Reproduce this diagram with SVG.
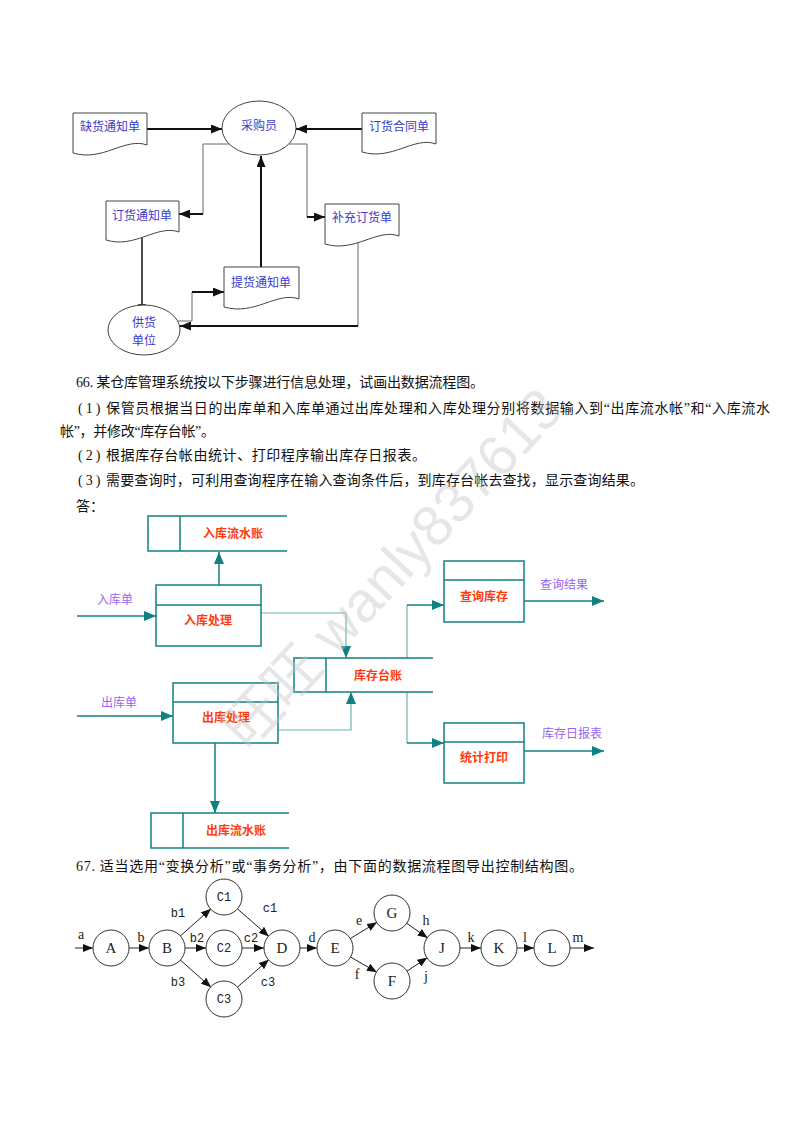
<svg xmlns="http://www.w3.org/2000/svg" width="800" height="1132" viewBox="0 0 800 1132">
<style>
.bg{fill:#fff}
.wm{font-family:"Liberation Sans","Noto Sans CJK SC",sans-serif;font-size:57px;fill:#c4c4c4;fill-opacity:0.42}
.para{font-family:"Liberation Serif","Noto Sans CJK SC",serif;font-size:14px;fill:#111}
.num{letter-spacing:3px}
.doc{fill:#fff;stroke:#444;stroke-width:1}
.ell{fill:#fff;stroke:#444;stroke-width:1}
.blue{font-family:"Noto Sans CJK SC",sans-serif;font-size:12px;fill:#3a3acc;text-anchor:middle}
.thick{fill:none;stroke:#111;stroke-width:2}
.thin{fill:none;stroke:#666;stroke-width:1}
.tbox{fill:#fff;stroke:#108080;stroke-width:1.5}
.tline{fill:none;stroke:#108080;stroke-width:1.5}
.tthin{fill:none;stroke:#6fb3b3;stroke-width:1.2}
.red{font-family:"Noto Sans CJK SC",sans-serif;font-size:12px;font-weight:bold;fill:#ff3a10;text-anchor:middle}
.pur{font-family:"Noto Sans CJK SC",sans-serif;font-size:12px;fill:#9966ee;text-anchor:middle}
.node{fill:#fff;stroke:#333;stroke-width:1}
.nl{font-family:"Liberation Serif",serif;font-size:15px;fill:#222;text-anchor:middle}
.el{font-family:"Liberation Serif",serif;font-size:14px;fill:#222;text-anchor:middle}
.em{font-family:"Liberation Mono",monospace;font-size:12px;fill:#222;text-anchor:middle}
.g{fill:none;stroke:#222;stroke-width:1}
</style>
<defs>
<marker id="ab" markerUnits="userSpaceOnUse" markerWidth="11" markerHeight="9" refX="11" refY="4.5" orient="auto"><path d="M0,0 L11,4.5 L0,9 z" fill="#111"/></marker>
<marker id="at" markerUnits="userSpaceOnUse" markerWidth="12" markerHeight="10" refX="12" refY="5" orient="auto"><path d="M0,0 L12,5 L0,10 z" fill="#108080"/></marker>
<marker id="ag" markerUnits="userSpaceOnUse" markerWidth="10" markerHeight="8" refX="10" refY="4" orient="auto"><path d="M0,0 L10,4 L0,8 z" fill="#111"/></marker>
</defs>
<rect class="bg" x="0" y="0" width="800" height="1132"/>

<!-- ===== Top diagram ===== -->
<g id="top-connectors">
<line class="thick" x1="147" y1="129" x2="222" y2="129" marker-end="url(#ab)"/>
<line class="thick" x1="362" y1="129" x2="296" y2="129" marker-end="url(#ab)"/>
<polyline class="thin" points="229,144 203,144 203,214"/>
<line class="thick" x1="203" y1="214" x2="179" y2="214" marker-end="url(#ab)"/>
<polyline class="thin" points="289,144 307,144 307,217"/>
<line class="thick" x1="307" y1="217" x2="325" y2="217" marker-end="url(#ab)"/>
<line class="thick" x1="261" y1="267" x2="261" y2="156" marker-end="url(#ab)"/>
<line x1="142" y1="238" x2="142" y2="305" stroke="#111" stroke-width="1.5"/>
<line x1="138" y1="305" x2="146" y2="305" stroke="#111" stroke-width="1.5"/>
<polyline class="thin" points="178,321 192,321 192,292"/>
<line class="thick" x1="192" y1="292" x2="224" y2="292" marker-end="url(#ab)"/>
<polyline class="thin" points="358,243 358,326"/>
<line class="thick" x1="358" y1="326" x2="180" y2="326" marker-end="url(#ab)"/>
</g>
<g id="n-quehuo"><path class="doc" d="M73,113 H147 V145 C125,137 103,162 73,153 Z"/><text class="blue" x="110" y="131">缺货通知单</text></g>
<g id="n-caigou"><ellipse class="ell" cx="259" cy="128" rx="37" ry="27"/><text class="blue" x="259" y="130">采购员</text></g>
<g id="n-hetong"><path class="doc" d="M362,113 H436 V144 C414,136 392,161 362,152 Z"/><text class="blue" x="399" y="131">订货合同单</text></g>
<g id="n-dinghuo"><path class="doc" d="M106,201 H179 V232 C157,224 135,249 106,240 Z"/><text class="blue" x="142" y="220">订货通知单</text></g>
<g id="n-buchong"><path class="doc" d="M325,204 H399 V236 C377,228 355,253 325,244 Z"/><text class="blue" x="362" y="222">补充订货单</text></g>
<g id="n-tihuo"><path class="doc" d="M224,267 H299 V299 C277,291 255,316 224,307 Z"/><text class="blue" x="261" y="287">提货通知单</text></g>
<g id="n-gonghuo"><ellipse class="ell" cx="144" cy="330" rx="36" ry="25"/><text class="blue" x="144" y="327">供货</text><text class="blue" x="144" y="345">单位</text></g>

<!-- ===== Paragraph ===== -->
<g id="para66">
<text class="para" x="76" y="387" textLength="408">66. 某仓库管理系统按以下步骤进行信息处理，试画出数据流程图。</text>
<text class="para" y="413"><tspan class="num" x="78">(1)</tspan><tspan x="106" textLength="664">保管员根据当日的出库单和入库单通过出库处理和入库处理分别将数据输入到“出库流水帐”和“入库流水</tspan></text>
<text class="para" x="60" y="436" textLength="155">帐”，并修改“库存台帐”。</text>
<text class="para" y="460"><tspan class="num" x="78">(2)</tspan><tspan x="106" textLength="320">根据库存台帐由统计、打印程序输出库存日报表。</tspan></text>
<text class="para" y="485"><tspan class="num" x="78">(3)</tspan><tspan x="106" textLength="538">需要查询时，可利用查询程序在输入查询条件后，到库存台帐去查找，显示查询结果。</tspan></text>
<text class="para" x="76" y="511">答：</text>
</g>

<!-- ===== DFD ===== -->
<g id="dfd-connectors">
<line class="tline" x1="219" y1="585" x2="219" y2="552" marker-end="url(#at)"/>
<line class="tline" x1="77" y1="616" x2="156" y2="616" marker-end="url(#at)"/>
<polyline class="tthin" points="261,613 346,613 346,658" marker-end="url(#at)"/>
<line class="tline" x1="77" y1="716" x2="173" y2="716" marker-end="url(#at)"/>
<polyline class="tthin" points="278,730 351,730 351,692" marker-end="url(#at)"/>
<line class="tline" x1="215" y1="743" x2="215" y2="813" marker-end="url(#at)"/>
<polyline class="tthin" points="407,658 407,605"/>
<line class="tline" x1="407" y1="605" x2="444" y2="605" marker-end="url(#at)"/>
<polyline class="tthin" points="407,692 407,743"/>
<line class="tline" x1="407" y1="743" x2="444" y2="743" marker-end="url(#at)"/>
<line class="tline" x1="524" y1="601" x2="604" y2="601" marker-end="url(#at)"/>
<line class="tline" x1="524" y1="751" x2="604" y2="751" marker-end="url(#at)"/>
</g>
<g id="s-rkls"><path class="tline" d="M287,516 H148 V551 H287 M180,516 V551"/><text class="red" x="233" y="538">入库流水账</text></g>
<g id="p-rkcl"><rect class="tbox" x="156" y="585" width="105" height="61"/><line class="tline" x1="156" y1="605" x2="261" y2="605"/><text class="red" x="208" y="625">入库处理</text></g>
<g id="l-rkd"><text class="pur" x="115" y="604">入库单</text></g>
<g id="s-kctz"><path class="tline" d="M433,658 H294 V692 H433 M326,658 V692"/><text class="red" x="378" y="680">库存台账</text></g>
<g id="p-ckcl"><rect class="tbox" x="173" y="683" width="105" height="60"/><line class="tline" x1="173" y1="702" x2="278" y2="702"/><text class="red" x="226" y="722">出库处理</text></g>
<g id="l-ckd"><text class="pur" x="119" y="707">出库单</text></g>
<g id="s-ckls"><path class="tline" d="M289,813 H151 V848 H289 M183,813 V848"/><text class="red" x="236" y="835">出库流水账</text></g>
<g id="p-cxkc"><rect class="tbox" x="444" y="561" width="80" height="61"/><line class="tline" x1="444" y1="580" x2="524" y2="580"/><text class="red" x="484" y="601">查询库存</text></g>
<g id="l-cxjg"><text class="pur" x="564" y="589">查询结果</text></g>
<g id="p-tjdy"><rect class="tbox" x="444" y="723" width="80" height="60"/><line class="tline" x1="444" y1="742" x2="524" y2="742"/><text class="red" x="484" y="762">统计打印</text></g>
<g id="l-kcrbb"><text class="pur" x="572" y="738">库存日报表</text></g>

<!-- ===== 67 ===== -->
<text class="para" x="76" y="871" textLength="507">67. 适当选用“变换分析”或“事务分析”，由下面的数据流程图导出控制结构图。</text>

<g id="graph-connectors">
<line class="g" x1="75" y1="948" x2="93" y2="948" marker-end="url(#ag)"/>
<line class="g" x1="129" y1="948" x2="149" y2="948" marker-end="url(#ag)"/>
<line class="g" x1="180" y1="936.3" x2="211" y2="908.7" marker-end="url(#ag)"/>
<line class="g" x1="185" y1="948" x2="206" y2="948" marker-end="url(#ag)"/>
<line class="g" x1="180" y1="959.7" x2="211" y2="987.3" marker-end="url(#ag)"/>
<line class="g" x1="237.1" y1="908.6" x2="268.9" y2="936.4" marker-end="url(#ag)"/>
<line class="g" x1="242" y1="948" x2="264" y2="948" marker-end="url(#ag)"/>
<line class="g" x1="237.1" y1="987.4" x2="268.9" y2="959.6" marker-end="url(#ag)"/>
<line class="g" x1="300" y1="948" x2="317" y2="948" marker-end="url(#ag)"/>
<line class="g" x1="349.9" y1="938.8" x2="377.1" y2="922.2" marker-end="url(#ag)"/>
<line class="g" x1="350.1" y1="956.8" x2="376.9" y2="972.2" marker-end="url(#ag)"/>
<line class="g" x1="406.3" y1="923" x2="427.7" y2="938" marker-end="url(#ag)"/>
<line class="g" x1="406.6" y1="971.4" x2="427.4" y2="957.6" marker-end="url(#ag)"/>
<line class="g" x1="460" y1="948" x2="481" y2="948" marker-end="url(#ag)"/>
<line class="g" x1="517" y1="948" x2="534" y2="948" marker-end="url(#ag)"/>
<line class="g" x1="570" y1="948" x2="594" y2="948" marker-end="url(#ag)"/>
<text class="el" x="81" y="939">a</text>
<text class="el" x="141" y="942">b</text>
<text class="em" x="178" y="917">b1</text>
<text class="em" x="197" y="942">b2</text>
<text class="em" x="178" y="986">b3</text>
<text class="em" x="270" y="912">c1</text>
<text class="em" x="251" y="942">c2</text>
<text class="em" x="268" y="986">c3</text>
<text class="el" x="312" y="942">d</text>
<text class="el" x="359" y="925">e</text>
<text class="el" x="357" y="979">f</text>
<text class="el" x="426" y="925">h</text>
<text class="el" x="426" y="981">j</text>
<text class="el" x="471" y="942">k</text>
<text class="el" x="525" y="942">l</text>
<text class="el" x="578" y="942">m</text>
</g>
<g id="g-A"><circle class="node" cx="111" cy="948" r="18"/><text class="nl" x="111" y="953">A</text></g>
<g id="g-B"><circle class="node" cx="167" cy="948" r="18"/><text class="nl" x="167" y="953">B</text></g>
<g id="g-C1"><circle class="node" cx="224" cy="897" r="18"/><text class="em" x="224" y="901">C1</text></g>
<g id="g-C2"><circle class="node" cx="224" cy="948" r="18"/><text class="em" x="224" y="952">C2</text></g>
<g id="g-C3"><circle class="node" cx="224" cy="999" r="18"/><text class="em" x="224" y="1003">C3</text></g>
<g id="g-D"><circle class="node" cx="282" cy="948" r="18"/><text class="nl" x="282" y="953">D</text></g>
<g id="g-E"><circle class="node" cx="335" cy="948" r="18"/><text class="nl" x="335" y="953">E</text></g>
<g id="g-G"><circle class="node" cx="392" cy="913" r="18"/><text class="nl" x="392" y="918">G</text></g>
<g id="g-F"><circle class="node" cx="392" cy="981" r="18"/><text class="nl" x="392" y="986">F</text></g>
<g id="g-J"><circle class="node" cx="442" cy="948" r="18"/><text class="nl" x="442" y="953">J</text></g>
<g id="g-K"><circle class="node" cx="499" cy="948" r="18"/><text class="nl" x="499" y="953">K</text></g>
<g id="g-L"><circle class="node" cx="552" cy="948" r="18"/><text class="nl" x="552" y="953">L</text></g>

<!-- watermark (faint, on top) -->
<text class="wm" transform="translate(248,752) rotate(-47)">旺旺 wanly837613</text>
</svg>
